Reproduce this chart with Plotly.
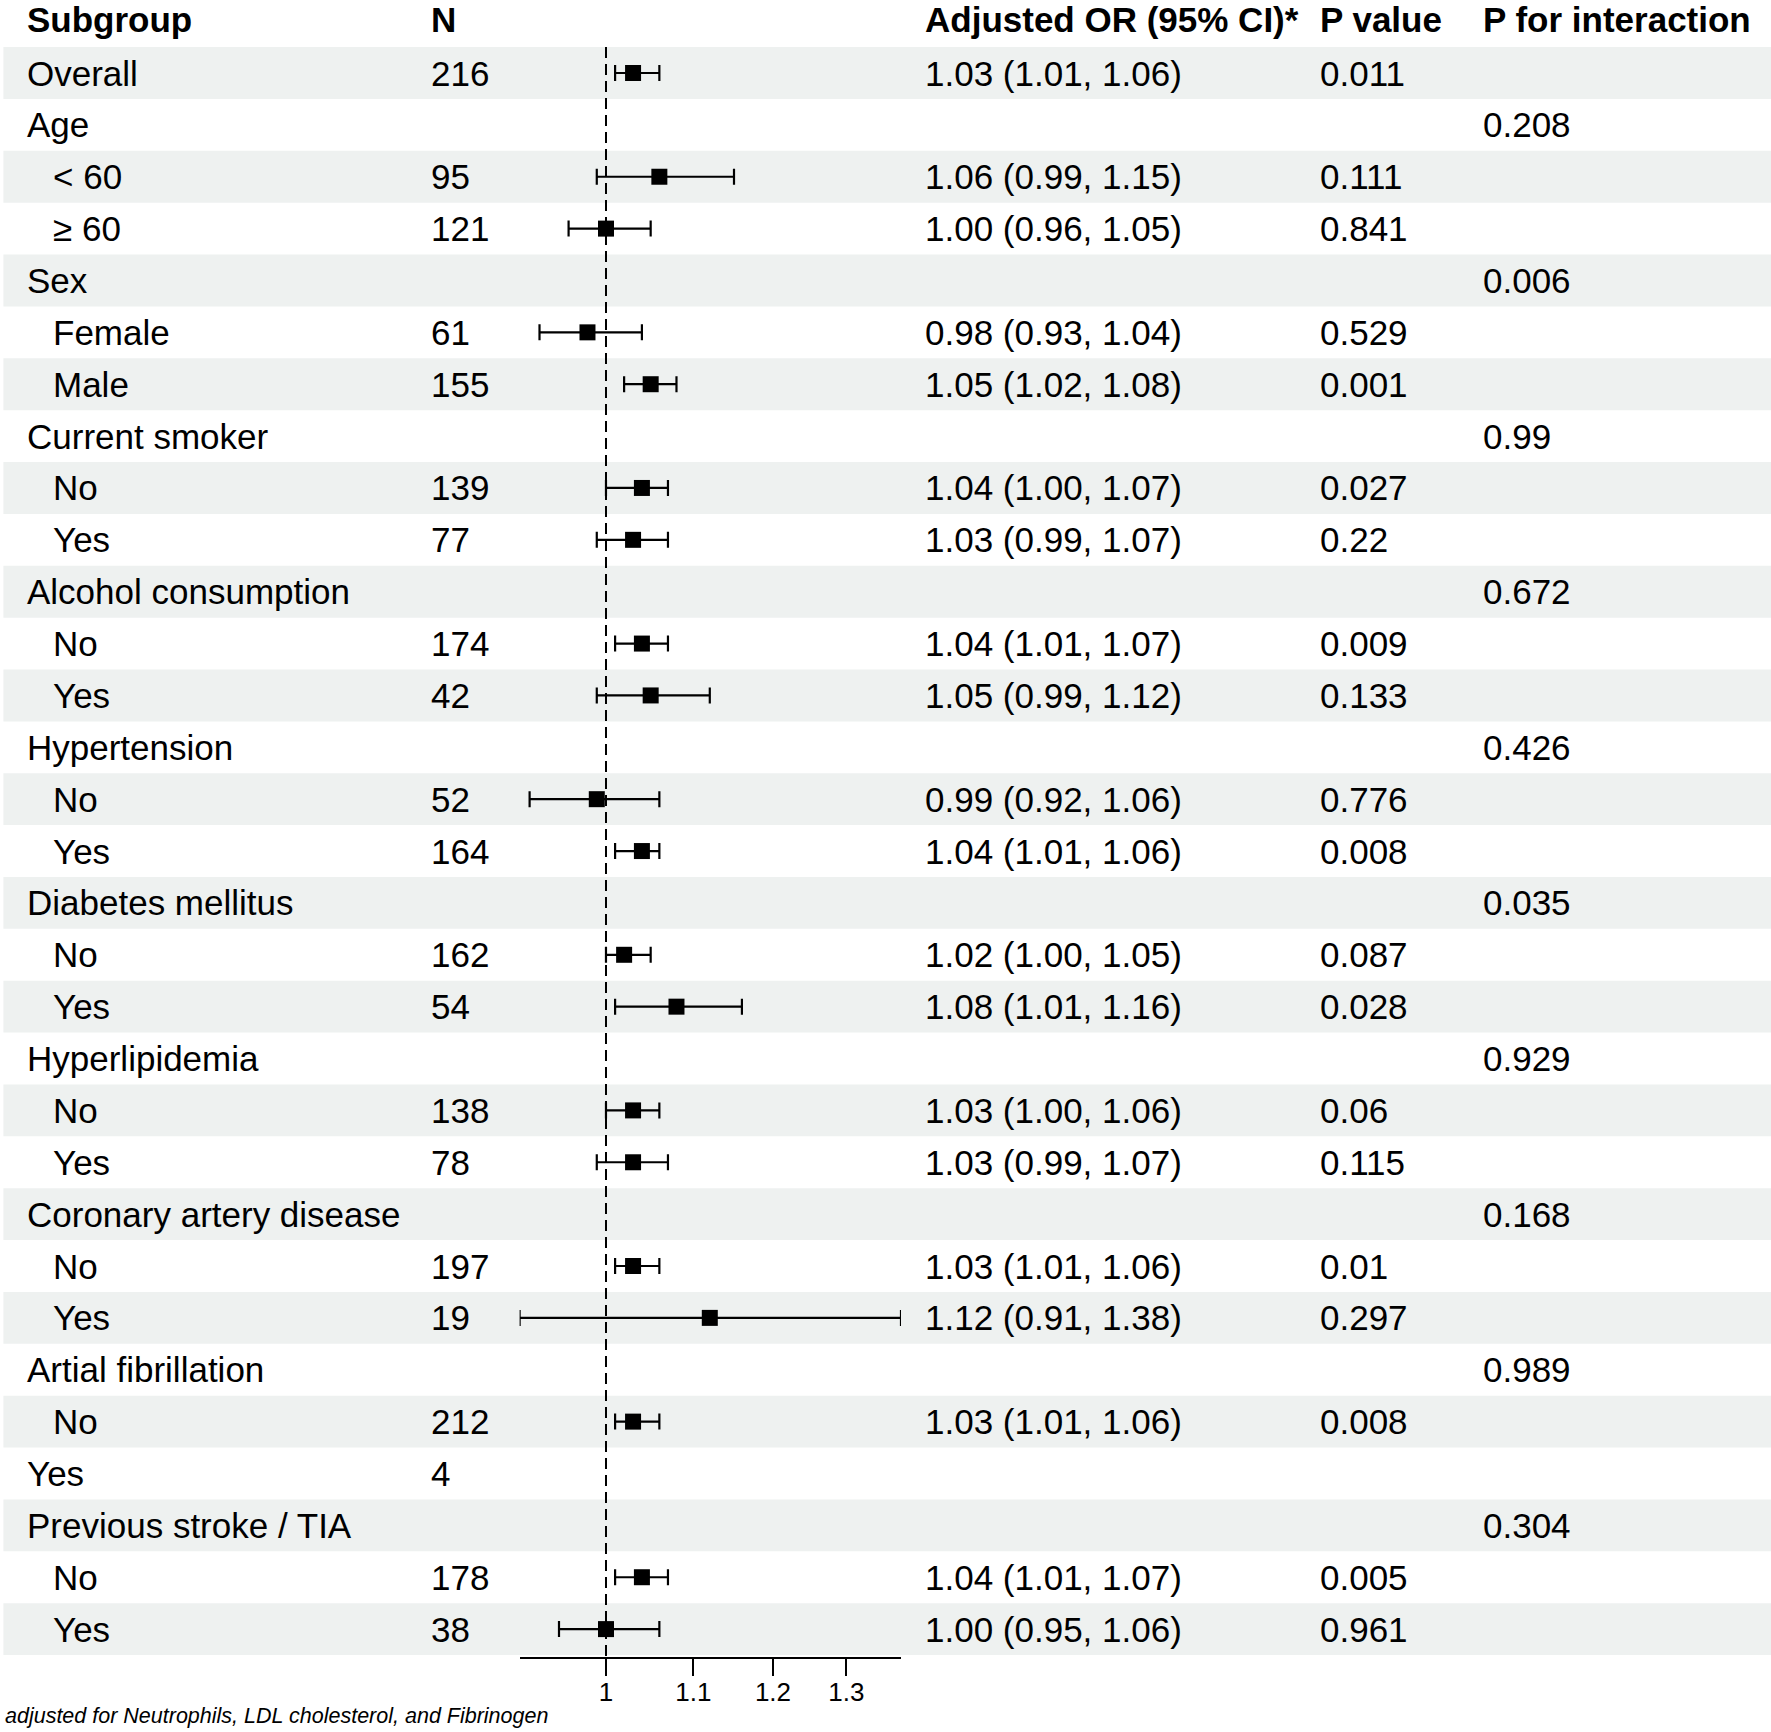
import math
import plotly.graph_objects as go

# ---------------- data ----------------
subgroups = ["Overall", "Age", "< 60", "\u2265 60", "Sex", "Female", "Male",
             "Current smoker", "No", "Yes", "Alcohol consumption", "No", "Yes",
             "Hypertension", "No", "Yes", "Diabetes mellitus", "No", "Yes",
             "Hyperlipidemia", "No", "Yes", "Coronary artery disease", "No", "Yes",
             "Artial fibrillation", "No", "Yes", "Previous stroke / TIA", "No", "Yes"]
indent = [0, 0, 1, 1, 0, 1, 1,
          0, 1, 1, 0, 1, 1,
          0, 1, 1, 0, 1, 1,
          0, 1, 1, 0, 1, 1,
          0, 1, 0, 0, 1, 1]
n_values = ["216", "", "95", "121", "", "61", "155",
            "", "139", "77", "", "174", "42",
            "", "52", "164", "", "162", "54",
            "", "138", "78", "", "197", "19",
            "", "212", "4", "", "178", "38"]
or_est = [1.03, None, 1.06, 1.00, None, 0.98, 1.05,
          None, 1.04, 1.03, None, 1.04, 1.05,
          None, 0.99, 1.04, None, 1.02, 1.08,
          None, 1.03, 1.03, None, 1.03, 1.12,
          None, 1.03, None, None, 1.04, 1.00]
or_low = [1.01, None, 0.99, 0.96, None, 0.93, 1.02,
          None, 1.00, 0.99, None, 1.01, 0.99,
          None, 0.92, 1.01, None, 1.00, 1.01,
          None, 1.00, 0.99, None, 1.01, 0.91,
          None, 1.01, None, None, 1.01, 0.95]
or_high = [1.06, None, 1.15, 1.05, None, 1.04, 1.08,
           None, 1.07, 1.07, None, 1.07, 1.12,
           None, 1.06, 1.06, None, 1.05, 1.16,
           None, 1.06, 1.07, None, 1.06, 1.38,
           None, 1.06, None, None, 1.07, 1.06]
p_values = ["0.011", "", "0.111", "0.841", "", "0.529", "0.001",
            "", "0.027", "0.22", "", "0.009", "0.133",
            "", "0.776", "0.008", "", "0.087", "0.028",
            "", "0.06", "0.115", "", "0.01", "0.297",
            "", "0.008", "", "", "0.005", "0.961"]
p_interaction = ["", "0.208", "", "", "0.006", "", "",
                 "0.99", "", "", "0.672", "", "",
                 "0.426", "", "", "0.035", "", "",
                 "0.929", "", "", "0.168", "", "",
                 "0.989", "", "", "0.304", "", ""]
headers = ["Subgroup", "N", "Adjusted OR (95% CI)*", "P value", "P for interaction"]
tick_vals = [1, 1.1, 1.2, 1.3]
tick_text = ["1", "1.1", "1.2", "1.3"]
ref_value = 1
x_limits = [0.91, 1.38]
footnote = "adjusted for Neutrophils, LDL cholesterol, and Fibrinogen"

# ---------------- layout constants ----------------
W, H = 1771, 1732
FONT = "Liberation Sans, Arial, Helvetica, sans-serif"
FS = 35
BAND = "#EEF1F0"
ROW_TOP_PX = 73.0
ROW_STEP_PX = 51.87
AXIS_PX = 1656.7

col_px = {"sub": 24.8, "sub_ind": 50.8, "n": 429.0, "or": 923.0, "p": 1318.0, "pint": 1481.0}
forest_px = (519.6, 901.0)

def px(v):
    return v / W

nrows = len(subgroups)
y_top = -ROW_TOP_PX / ROW_STEP_PX
y_axis = (AXIS_PX - ROW_TOP_PX) / ROW_STEP_PX

fig = go.Figure()

xs, ys, ep, em = [], [], [], []
for i in range(nrows):
    if or_est[i] is not None:
        xs.append(or_est[i])
        ys.append(i)
        ep.append(or_high[i] - or_est[i])
        em.append(or_est[i] - or_low[i])

fig.add_trace(go.Scatter(
    x=xs, y=ys, mode="markers",
    marker=dict(symbol="square", size=16, color="black", line=dict(width=0)),
    error_x=dict(type="data", symmetric=False, array=ep, arrayminus=em,
                 color="black", thickness=2.2, width=8),
    cliponaxis=False, showlegend=False, hoverinfo="skip",
))

shapes = []
for i in range(nrows):
    if i % 2 == 0:
        shapes.append(dict(type="rect", xref="paper", yref="y", x0=px(3.4), x1=1,
                           y0=i - 0.5, y1=i + 0.5, fillcolor=BAND, line=dict(width=0),
                           layer="below"))
shapes.append(dict(type="line", xref="x", yref="y", x0=ref_value, x1=ref_value,
                   y0=-0.5, y1=y_axis, line=dict(color="black", width=2, dash="11px,6px"),
                   layer="above"))

annotations = []

def add_text(xp, y, text, bold=False, size=FS, italic=False, yref="y"):
    if text == "":
        return
    t = text
    if bold:
        t = "<b>" + t + "</b>"
    if italic:
        t = "<i>" + t + "</i>"
    annotations.append(dict(x=px(xp), y=y, xref="paper", yref=yref, text=t,
                            showarrow=False, xanchor="left", yanchor="middle",
                            font=dict(family=FONT, size=size, color="black")))

hdr_x = [col_px["sub"], col_px["n"], col_px["or"], col_px["p"], col_px["pint"]]
for hx, ht in zip(hdr_x, headers):
    add_text(hx, -1.03, ht, bold=True)

for i in range(nrows):
    add_text(col_px["sub_ind"] if indent[i] else col_px["sub"], i, subgroups[i])
    add_text(col_px["n"], i, n_values[i])
    if or_est[i] is not None:
        add_text(col_px["or"], i, f"{or_est[i]:.2f} ({or_low[i]:.2f}, {or_high[i]:.2f})")
    add_text(col_px["p"], i, p_values[i])
    add_text(col_px["pint"], i, p_interaction[i])

add_text(3.4, 1 - 1716 / H, footnote, italic=True, size=21.5, yref="paper")

fig.update_layout(
    width=W, height=H,
    margin=dict(l=0, r=0, t=0, b=0),
    paper_bgcolor="white", plot_bgcolor="rgba(0,0,0,0)",
    shapes=shapes, annotations=annotations,
    xaxis=dict(type="log", domain=[px(forest_px[0]), px(forest_px[1])],
               range=[math.log10(x_limits[0]), math.log10(x_limits[1])],
               showgrid=False, zeroline=False, showline=True, linecolor="black", linewidth=2,
               ticks="outside", ticklen=17, tickwidth=2, tickcolor="black",
               tickvals=tick_vals, ticktext=tick_text, ticklabelstandoff=-6,
               tickfont=dict(family=FONT, size=26, color="black")),
    yaxis=dict(domain=[(H - AXIS_PX) / H, 1], range=[y_axis, y_top],
               showgrid=False, zeroline=False, showticklabels=False, showline=False),
    font=dict(family=FONT),
)

fig.write_html("out.html",
               config={"displayModeBar": False, "staticPlot": True},
               post_script="document.body.style.margin='0';document.body.style.padding='0';")
